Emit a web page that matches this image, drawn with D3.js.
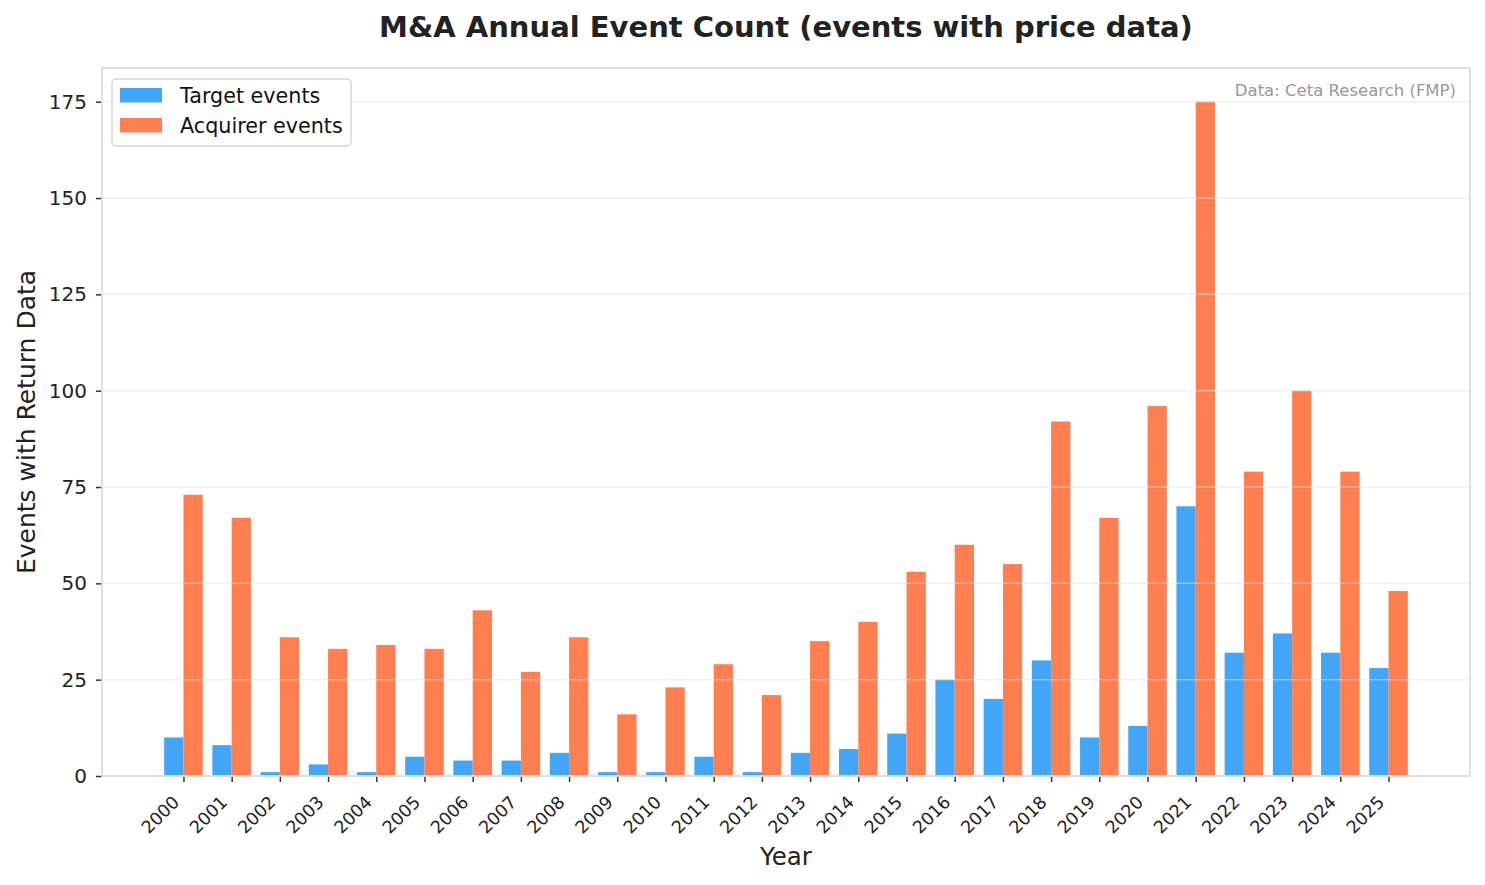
<!DOCTYPE html>
<html>
<head>
<meta charset="utf-8">
<script src="https://cdn.jsdelivr.net/npm/d3@7"></script>
<style>
  body { margin: 0; background: #fff; }
  text { font-family: "DejaVu Sans", sans-serif; }
</style>
</head>
<body>
<div id="chart"></div>
<script>
const years = ["2000","2001","2002","2003","2004","2005","2006","2007","2008","2009","2010","2011","2012",
  "2013","2014","2015","2016","2017","2018","2019","2020","2021","2022","2023","2024","2025"];
const targetEvents = [10, 8, 1, 3, 1, 5, 4, 4, 6, 1, 1, 5, 1, 6, 7, 11, 25, 20, 30, 10, 13, 70, 32, 37, 32, 28];
const acquirerEvents = [73, 67, 36, 33, 34, 33, 43, 27, 36, 16, 23, 29, 21, 35, 40, 53, 60, 55, 92, 67, 96, 175, 79, 100, 79, 48];
const yTicks = [0, 25, 50, 75, 100, 125, 150, 175];

const W = 1485, H = 885;
const margin = {t: 68, r: 15, b: 109, l: 102};
const w = W - margin.l - margin.r;
const h = H - margin.t - margin.b;

const svg = d3.select("#chart").append("svg")
  .attr("width", W)
  .attr("height", H);

const g = svg.append("g")
  .attr("transform", `translate(${margin.l},${margin.t})`);

const barW = 0.4;
const x = d3.scaleLinear()
  .domain([-1.69, years.length - 1 + 1.69])
  .range([0, w]);

const y = d3.scaleLinear()
  .domain([0, 175 * 1.05])
  .range([h, 0]);

// bars
g.selectAll(".target")
  .data(targetEvents)
  .enter()
  .append("rect")
  .attr("class", "target")
  .attr("x", (d, i) => x(i - barW))
  .attr("width", x(barW) - x(0))
  .attr("y", d => y(d))
  .attr("height", d => y(0) - y(d))
  .attr("fill", "#42A5F5");

g.selectAll(".acquirer")
  .data(acquirerEvents)
  .enter()
  .append("rect")
  .attr("class", "acquirer")
  .attr("x", (d, i) => x(i))
  .attr("width", x(barW) - x(0))
  .attr("y", d => y(d))
  .attr("height", d => y(0) - y(d))
  .attr("fill", "#FF7F50");

// grid (drawn over bars, like the original)
g.selectAll(".grid")
  .data(yTicks)
  .enter()
  .append("line")
  .attr("class", "grid")
  .attr("x1", 0)
  .attr("x2", w)
  .attr("y1", d => y(d))
  .attr("y2", d => y(d))
  .attr("stroke", "#e4e4e4")
  .attr("stroke-opacity", 0.5)
  .attr("stroke-width", 1.5);

// axes
const yAxis = g.append("g")
  .call(d3.axisLeft(y).tickValues(yTicks).tickSize(6).tickPadding(9));
yAxis.select(".domain").remove();
yAxis.selectAll(".tick line").attr("stroke", "#333").attr("stroke-width", 1.5);
yAxis.selectAll(".tick text").attr("font-size", 20).attr("fill", "#222")
  .style("font-family", "DejaVu Sans, sans-serif");

const xAxis = g.append("g")
  .attr("transform", `translate(0,${h})`)
  .call(d3.axisBottom(x).tickValues(d3.range(years.length)).tickFormat(i => years[i]).tickSize(6));
xAxis.select(".domain").remove();
xAxis.selectAll(".tick line").attr("stroke", "#333").attr("stroke-width", 1.5);
xAxis.selectAll(".tick text")
  .attr("font-size", 17.5)
  .attr("fill", "#222")
  .style("font-family", "DejaVu Sans, sans-serif")
  .attr("text-anchor", "end")
  .attr("x", 0)
  .attr("y", 0)
  .attr("dy", "0.35em")
  .attr("transform", "translate(-8,23) rotate(-45)");

// frame
g.append("rect")
  .attr("x", 0).attr("y", 0)
  .attr("width", w).attr("height", h)
  .attr("fill", "none")
  .attr("stroke", "#dddddd")
  .attr("stroke-width", 1.8);

// title & labels
svg.append("text")
  .attr("x", margin.l + w / 2)
  .attr("y", 37)
  .attr("text-anchor", "middle")
  .attr("font-size", 29)
  .attr("font-weight", "bold")
  .attr("fill", "#222")
  .text("M&A Annual Event Count (events with price data)");

svg.append("text")
  .attr("x", margin.l + w / 2)
  .attr("y", 865)
  .attr("text-anchor", "middle")
  .attr("font-size", 24.5)
  .attr("fill", "#222")
  .text("Year");

svg.append("text")
  .attr("transform", `translate(35,${margin.t + h / 2}) rotate(-90)`)
  .attr("text-anchor", "middle")
  .attr("font-size", 25)
  .attr("fill", "#222")
  .text("Events with Return Data");

svg.append("text")
  .attr("x", margin.l + w - 14)
  .attr("y", 96)
  .attr("text-anchor", "end")
  .attr("font-size", 16.5)
  .attr("fill", "#999")
  .text("Data: Ceta Research (FMP)");

// legend
const legendItems = [
  {label: "Target events", color: "#42A5F5"},
  {label: "Acquirer events", color: "#FF7F50"}
];
const legend = svg.append("g").attr("transform", "translate(112,79)");
legend.append("rect")
  .attr("width", 239).attr("height", 67)
  .attr("rx", 4)
  .attr("fill", "#fff")
  .attr("fill-opacity", 0.85)
  .attr("stroke", "#d6d6d6")
  .attr("stroke-width", 1.5);
const li = legend.selectAll(".li")
  .data(legendItems)
  .enter()
  .append("g")
  .attr("transform", (d, i) => `translate(8,${9 + i * 30})`);
li.append("rect")
  .attr("width", 42).attr("height", 14.5)
  .attr("fill", d => d.color);
li.append("text")
  .attr("x", 60).attr("y", 14.5)
  .attr("font-size", 20.7)
  .attr("fill", "#111")
  .text(d => d.label);
</script>
</body>
</html>
